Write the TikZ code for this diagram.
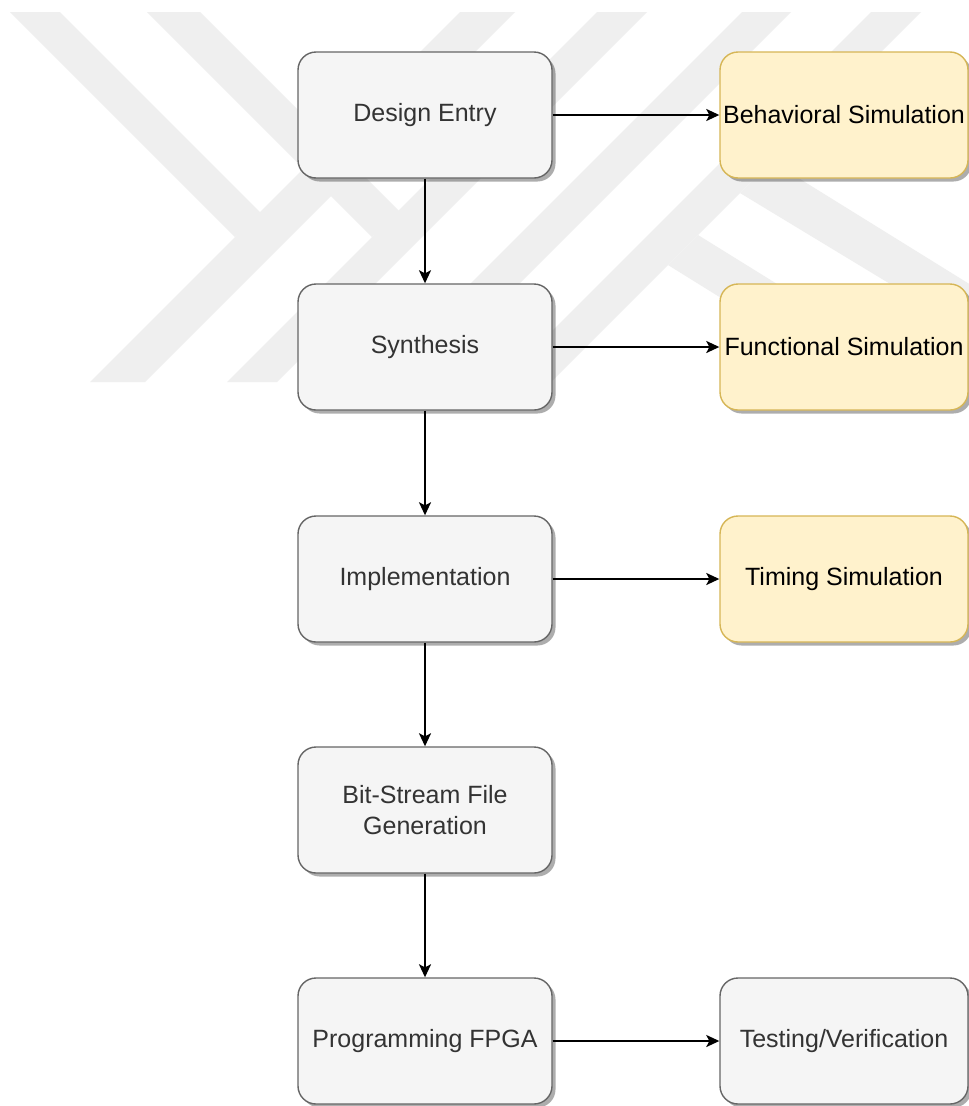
\documentclass[tikz,border=0pt]{standalone}
\usepackage{fontspec}
\setmainfont{Liberation Sans}
\usetikzlibrary{arrows.meta,shadows}

\definecolor{wm}{RGB}{239,239,239}
\definecolor{boxfill}{RGB}{245,245,245}
\definecolor{boxline}{RGB}{102,102,102}
\definecolor{boxtext}{RGB}{51,51,51}
\definecolor{simfill}{RGB}{255,242,204}
\definecolor{simline}{RGB}{214,182,86}

\begin{document}
\begin{tikzpicture}[x=1pt,y=-1pt,
  stagebox/.style={rectangle, rounded corners=18pt, draw=boxline, fill=boxfill,
    line width=1.4pt, text=boxtext, minimum width=254pt, minimum height=126pt,
    inner sep=2pt, align=center, font=\fontsize{25}{31}\selectfont,
    drop shadow={shadow xshift=3.5pt, shadow yshift=-3.5pt, opacity=0.32, fill=black}},
  simbox/.style={stagebox, draw=simline, fill=simfill, text=black, minimum width=248pt},
  checkbox/.style={stagebox, minimum width=248pt},
  flow/.style={line width=1.8pt, -{Stealth[length=13pt,width=12pt,inset=3pt]}}
]
\useasboundingbox (0,0) rectangle (969,1106);
\fill[white] (0,0) rectangle (969,1106);

% faint background logo made of diagonal bands
\begin{scope}
  \clip (0,12) rectangle (969,382);
  \fill[wm] (460,12) -- (515,12) -- (145,382) -- (90,382) -- cycle;
  \fill[wm] (10,12) -- (60,12) -- (262,214) -- (235,237) -- cycle;
  \fill[wm] (597,12) -- (647,12) -- (277,382) -- (227,382) -- cycle;
  \fill[wm] (147,12) -- (200,12) -- (400,212) -- (372,237) -- cycle;
  \fill[wm] (742,12) -- (791,12) -- (421,382) -- (372,382) -- cycle;
  \fill[wm] (871,12) -- (921,12) -- (551,382) -- (501,382) -- cycle;
  \fill[wm] (740,193) -- (771.6,161.4) -- (969,283.8) -- (969,331.7) -- cycle;
  \fill[wm] (668,265) -- (698,235) -- (969,403) -- (969,452) -- cycle;
\end{scope}

% design flow stages
\node[stagebox] (entry) at (425,115) {Design Entry};
\node[stagebox] (synth) at (425,347) {Synthesis};
\node[stagebox] (impl)  at (425,579) {Implementation};
\node[stagebox] (bits)  at (425,810) {Bit-Stream File\\Generation};
\node[stagebox] (prog)  at (425,1041) {Programming FPGA};

% verification steps
\node[simbox]   (behav) at (844,115) {Behavioral Simulation};
\node[simbox]   (func)  at (844,347) {Functional Simulation};
\node[simbox]   (timing) at (844,579) {Timing Simulation};
\node[checkbox] (test)  at (844,1041) {Testing/Verification};

% connectors
\draw[flow] (entry) -- (synth);
\draw[flow] (synth) -- (impl);
\draw[flow] (impl) -- (bits);
\draw[flow] (bits) -- (prog);
\draw[flow] (entry) -- (behav);
\draw[flow] (synth) -- (func);
\draw[flow] (impl) -- (timing);
\draw[flow] (prog) -- (test);
\end{tikzpicture}
\end{document}
